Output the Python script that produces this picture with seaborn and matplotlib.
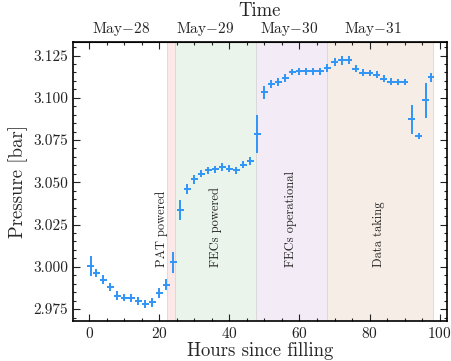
import matplotlib
matplotlib.use("Agg")
import matplotlib.pyplot as plt
from matplotlib.ticker import MultipleLocator, FormatStrFormatter
import seaborn as sns

# pressure readings, binned every 2 hours
hours = [0.5, 2, 4, 6, 8, 10, 12, 14, 16, 18, 20, 22, 24, 26, 28, 30, 32, 34,
         36, 38, 40, 42, 44, 46, 48, 50, 52, 54, 56, 58, 60, 62, 64, 66, 68,
         70, 72, 74, 76, 78, 80, 82, 84, 86, 88, 90, 92, 94, 96, 97.5]
pressure = [3.0005, 2.9965, 2.9925, 2.9880, 2.9830, 2.9817, 2.9815, 2.9797,
            2.9780, 2.9790, 2.9843, 2.9895, 3.0027, 3.0335, 3.0460, 3.0517,
            3.0552, 3.0572, 3.0576, 3.0590, 3.0580, 3.0572, 3.0605, 3.0625,
            3.0784, 3.1032, 3.1080, 3.1093, 3.1118, 3.1152, 3.1156, 3.1156,
            3.1156, 3.1156, 3.1176, 3.1213, 3.1221, 3.1222, 3.1172, 3.1148,
            3.1147, 3.1137, 3.1113, 3.1095, 3.1093, 3.1094, 3.0872, 3.0774,
            3.0985, 3.1120]
pressure_err = [0.0060, 0.0025, 0.0025, 0.0025, 0.0025, 0.0022, 0.0022, 0.0025,
                0.0025, 0.0025, 0.0030, 0.0035, 0.0062, 0.0060, 0.0032, 0.0025,
                0.0022, 0.0020, 0.0020, 0.0022, 0.0020, 0.0020, 0.0022, 0.0022,
                0.0113, 0.0040, 0.0025, 0.0025, 0.0025, 0.0020, 0.0020, 0.0020,
                0.0020, 0.0020, 0.0022, 0.0025, 0.0025, 0.0025, 0.0022, 0.0020,
                0.0020, 0.0020, 0.0020, 0.0020, 0.0020, 0.0020, 0.0086, 0.0018,
                0.0103, 0.0025]
hour_err = [1.0] * 49 + [0.75]

# detector phases
phase_names = ["PAT powered", "FECs powered", "FECs operational", "Data taking"]
phase_start = [22.3, 24.6, 47.7, 68.0]
phase_end = [24.6, 47.7, 68.0, 98.0]
phase_colors = ["#fbe8e7", "#ebf4ea", "#f3ecf6", "#f6ede6"]
phase_label_x = [20.6, 36.0, 57.6, 82.8]

# calendar days on the top axis
day_pos = [9, 33, 57, 81]
day_labels = [r"May$-$28", r"May$-$29", r"May$-$30", r"May$-$31"]

sns.set_style("ticks")
plt.rcParams["font.family"] = ["cmr10", "DejaVu Serif"]
plt.rcParams["mathtext.fontset"] = "cm"
plt.rcParams["axes.formatter.use_mathtext"] = True

fig = plt.figure(figsize=(4.52, 3.61), dpi=100)
ax = fig.add_axes([0.1615, 0.111, 0.8275, 0.7727])

for start, end, col in zip(phase_start, phase_end, phase_colors):
    ax.axvspan(start, end, facecolor=col, edgecolor="#d8d8d8", linewidth=0.6, zorder=0)

for x, name in zip(phase_label_x, phase_names):
    ax.text(x, 3.0, name, rotation=90, ha="center", va="bottom", fontsize=9,
            color="#222222")

ax.errorbar(hours, pressure, yerr=pressure_err, xerr=hour_err, fmt="none",
            ecolor="#2f95f7", elinewidth=1.4, capsize=0, zorder=3)

ax.set_xlim(-4.6, 102.1)
ax.set_ylim(2.968, 3.133)
ax.xaxis.set_major_locator(MultipleLocator(20))
ax.xaxis.set_minor_locator(MultipleLocator(5))
ax.yaxis.set_major_locator(MultipleLocator(0.025))
ax.yaxis.set_minor_locator(MultipleLocator(0.005))
ax.yaxis.set_major_formatter(FormatStrFormatter("%.3f"))
ax.tick_params(which="both", direction="in", top=True, right=True, labelsize=11,
               width=0.8, colors="#222222")
ax.tick_params(which="major", length=5)
ax.tick_params(which="minor", length=2.5)
for sp in ax.spines.values():
    sp.set_linewidth(1.2)
    sp.set_color("black")

ax.set_xlabel("Hours since filling", fontsize=13.5, labelpad=1)
ax.set_ylabel("Pressure [bar]", fontsize=13.5, labelpad=4)

top = ax.secondary_xaxis("top")
top.set_xticks(day_pos)
top.set_xticklabels(day_labels)
top.tick_params(length=0, labelsize=11, pad=3)
top.set_xlabel("Time", fontsize=13.5, labelpad=3)

fig.savefig("out.png", dpi=100)
